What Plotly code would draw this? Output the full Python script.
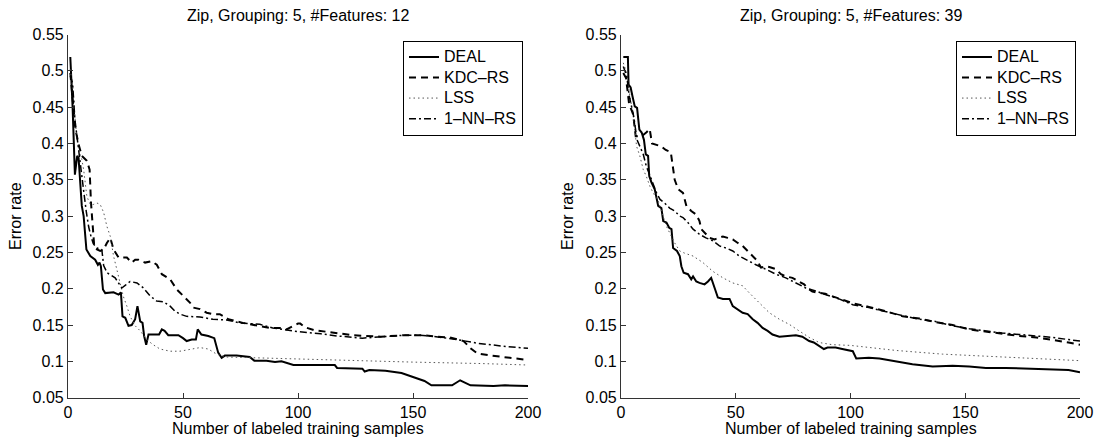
import plotly.graph_objects as go

# ---------------- data: left panel (#Features: 12) ----------------
deal_l_x = [1, 2, 3, 3.5, 4, 4.6, 5.3, 6, 6.8, 7.5, 8, 9.7, 11.8, 13, 13.7, 14.3, 15.2, 16.2, 19.8, 22, 23,
            23.7, 24.9, 26.3, 27.7, 29.2, 30.2, 31.4, 32.4, 33.1, 34, 35, 36.4, 37.9, 39.6, 40.8, 42, 43.6,
            48, 50, 51.6, 53.8, 55.6, 56.4, 58, 61, 63.6, 65.3, 66.8, 68.2, 73.3, 79, 81, 86.3, 90, 92.8,
            96, 98, 116, 117, 128, 129, 131, 138, 145, 150, 155, 158, 167, 170.5, 175, 185, 190, 200]
deal_l_y = [0.519, 0.45, 0.357, 0.37, 0.383, 0.38, 0.35, 0.314, 0.30, 0.27, 0.254, 0.245, 0.240, 0.233, 0.236,
            0.231, 0.199, 0.194, 0.195, 0.192, 0.195, 0.162, 0.160, 0.149, 0.150, 0.158, 0.176, 0.155, 0.153,
            0.135, 0.123, 0.137, 0.137, 0.138, 0.137, 0.144, 0.142, 0.136, 0.136, 0.132, 0.128, 0.130, 0.130,
            0.144, 0.137, 0.135, 0.132, 0.112, 0.105, 0.108, 0.108, 0.106, 0.101, 0.101, 0.099, 0.100,
            0.097, 0.095, 0.095, 0.091, 0.090, 0.086, 0.088, 0.087, 0.084, 0.079, 0.073, 0.067, 0.067, 0.074,
            0.067, 0.066, 0.067, 0.066]

kdc_l_x = [1, 2.5, 3.2, 4.6, 6, 8.2, 9.4, 10, 10.8, 11.4, 12.6, 14, 15.5, 16.9, 18.4, 19.8, 22, 25.6, 27.7,
           29.2, 30.6, 33.5, 36.4, 38.6, 40.8, 44.4, 47.3, 50.1, 53, 54.5, 57.4, 60.3, 63, 66, 67.5, 69.7,
           76, 83.4, 87.7, 92, 95, 98, 100, 101, 103, 107, 117, 124, 136, 146, 155, 160, 166, 172, 175, 178,
           184, 190, 200]
kdc_l_y = [0.497, 0.442, 0.42, 0.399, 0.383, 0.376, 0.364, 0.318, 0.282, 0.259, 0.254, 0.252, 0.254, 0.263,
           0.270, 0.254, 0.243, 0.243, 0.236, 0.240, 0.240, 0.236, 0.238, 0.233, 0.220, 0.213, 0.199, 0.190,
           0.181, 0.174, 0.172, 0.167, 0.165, 0.165, 0.162, 0.158, 0.153, 0.149, 0.146, 0.146, 0.144, 0.149,
           0.152, 0.152, 0.147, 0.143, 0.139, 0.136, 0.134, 0.136, 0.136, 0.134, 0.133, 0.128, 0.118, 0.111,
           0.108, 0.106, 0.102]

lss_l_x = [1, 2.2, 3.2, 4, 5.3, 6, 6.8, 7.5, 8.2, 9.7, 11, 12.6, 14, 15.5, 16.9, 18.4, 19.8, 21.2, 22.7, 24,
           25.6, 27, 29.2, 31.4, 34.2, 37, 40, 44.4, 48.7, 53, 57.4, 61, 64.6, 69, 80, 100, 120, 150, 180, 200]
lss_l_y = [0.502, 0.474, 0.428, 0.405, 0.385, 0.378, 0.364, 0.341, 0.327, 0.316, 0.316, 0.318, 0.316, 0.305,
           0.286, 0.272, 0.245, 0.227, 0.208, 0.190, 0.176, 0.162, 0.149, 0.142, 0.130, 0.123, 0.117, 0.114,
           0.114, 0.116, 0.119, 0.117, 0.110, 0.106, 0.105, 0.103, 0.101, 0.099, 0.097, 0.095]

nn_l_x = [1, 2, 3, 4, 5, 6, 7, 8, 9, 10, 11, 12.6, 14.7, 15.5, 17, 20.5, 22, 23.4, 25, 27, 30, 32.8, 35.7,
          38.6, 41.5, 44.4, 46.5, 48.7, 51.6, 57.4, 63, 69, 74.7, 83.4, 89, 95, 100, 110, 117, 128, 139, 146,
          153, 160, 169, 178, 189, 200]
nn_l_y = [0.493, 0.483, 0.433, 0.405, 0.38, 0.355, 0.33, 0.305, 0.285, 0.272, 0.262, 0.256, 0.254, 0.232,
          0.222, 0.215, 0.208, 0.201, 0.205, 0.210, 0.208, 0.201, 0.190, 0.183, 0.182, 0.176, 0.169, 0.165,
          0.162, 0.161, 0.158, 0.157, 0.153, 0.151, 0.146, 0.143, 0.141, 0.138, 0.135, 0.132, 0.134, 0.136,
          0.136, 0.134, 0.130, 0.125, 0.121, 0.118]

# ---------------- data: right panel (#Features: 39) ----------------
deal_r_x = [1, 3, 3.3, 4.2, 5, 6, 7, 8, 9, 10, 10.8, 11.8, 12.3, 13.3, 14.7, 15.5, 16.2, 17.6, 18.4, 19.8,
            21, 22, 22.7, 24.4, 25.6, 26.3, 27.3, 29.2, 30.6, 31.4, 32.8, 34.2, 36.4, 37.9, 39.3, 40.8, 42.2,
            44.4, 47.3, 48.7, 50.9, 53, 55.2, 57.4, 59.5, 61.7, 63.9, 66, 69, 71.8, 76.2, 79, 82, 84, 86.3,
            88.4, 90, 93.5, 96.4, 101, 102.5, 108, 112.6, 119.8, 127, 135.8, 144.5, 151.7, 159, 167.6, 176.3,
            187.9, 195, 200]
deal_r_y = [0.519, 0.519, 0.481, 0.477, 0.465, 0.451, 0.449, 0.419, 0.415, 0.405, 0.385, 0.383, 0.355, 0.346,
            0.337, 0.327, 0.314, 0.311, 0.293, 0.291, 0.284, 0.282, 0.256, 0.252, 0.245, 0.231, 0.222, 0.220,
            0.213, 0.217, 0.210, 0.208, 0.206, 0.210, 0.215, 0.201, 0.188, 0.186, 0.186, 0.176, 0.171, 0.167,
            0.165, 0.158, 0.153, 0.146, 0.142, 0.137, 0.134, 0.135, 0.136, 0.134, 0.128, 0.126, 0.121, 0.117,
            0.119, 0.119, 0.117, 0.114, 0.104, 0.105, 0.104, 0.100, 0.096, 0.093, 0.094, 0.093, 0.091, 0.091,
            0.090, 0.089, 0.088, 0.085]

kdc_r_x = [1, 2.2, 3.5, 4.5, 5.3, 6.4, 7.6, 9, 11, 12.5, 13.5, 17.6, 19.5, 21.7, 22.5, 23.4, 24.9, 27, 28.5,
           30.6, 32.8, 34.2, 35, 36.4, 38.6, 40.8, 42.9, 44.4, 46.5, 48.7, 50.9, 53, 55.2, 57.4, 59.5, 61, 63,
           64.6, 67.5, 69.7, 71.8, 74.7, 77.6, 79.8, 81.2, 83.4, 89, 95, 101, 108, 115.5, 122.7, 130, 137,
           144.5, 151.7, 159, 166, 173.5, 181, 188, 195, 200]
kdc_r_y = [0.497, 0.490, 0.455, 0.448, 0.440, 0.410, 0.410, 0.410, 0.415, 0.420, 0.400, 0.396, 0.391, 0.388,
           0.370, 0.350, 0.337, 0.332, 0.314, 0.307, 0.302, 0.293, 0.282, 0.277, 0.270, 0.268, 0.270, 0.272,
           0.270, 0.268, 0.263, 0.259, 0.252, 0.245, 0.238, 0.229, 0.231, 0.230, 0.227, 0.220, 0.217, 0.215,
           0.210, 0.206, 0.201, 0.196, 0.193, 0.187, 0.180, 0.175, 0.169, 0.162, 0.159, 0.154, 0.150, 0.144,
           0.141, 0.138, 0.135, 0.133, 0.130, 0.126, 0.123]

lss_r_x = [1, 2.5, 3.9, 5.3, 6.8, 8.2, 9.7, 11, 12.6, 14, 16.2, 18.4, 19.8, 21.2, 23.4, 25.6, 27.7, 31.4,
           35.7, 40, 44.4, 48.7, 53, 56, 60.3, 64.6, 69, 73.3, 77.6, 82, 86.3, 92, 100, 120, 140, 160, 180, 200]
lss_r_y = [0.511, 0.497, 0.465, 0.438, 0.396, 0.383, 0.364, 0.355, 0.341, 0.332, 0.321, 0.300, 0.286, 0.277,
           0.263, 0.252, 0.249, 0.245, 0.236, 0.224, 0.215, 0.208, 0.204, 0.194, 0.181, 0.167, 0.158, 0.151,
           0.142, 0.133, 0.126, 0.123, 0.122, 0.115, 0.110, 0.107, 0.104, 0.101]

nn_r_x = [1, 2.5, 3.6, 4.5, 5.5, 7, 8.2, 9.7, 11, 12.6, 14, 15.5, 17, 19, 21.2, 23.4, 25.6, 27, 29.2, 31.4,
          34.2, 37, 40, 42.9, 45.8, 48.7, 51.6, 54.5, 58.8, 63, 67.5, 71.8, 76.2, 80.5, 84.8, 89, 95, 101, 108,
          115.5, 122.7, 130, 137, 144.5, 151.7, 159, 166, 173.5, 181, 188, 195, 200]
nn_r_y = [0.506, 0.493, 0.465, 0.451, 0.438, 0.405, 0.395, 0.385, 0.369, 0.355, 0.344, 0.332, 0.323, 0.318,
          0.311, 0.307, 0.300, 0.298, 0.291, 0.282, 0.275, 0.270, 0.266, 0.259, 0.256, 0.252, 0.245, 0.240,
          0.233, 0.227, 0.220, 0.215, 0.208, 0.201, 0.197, 0.192, 0.186, 0.178, 0.174, 0.168, 0.163, 0.158,
          0.155, 0.149, 0.145, 0.142, 0.139, 0.137, 0.135, 0.133, 0.130, 0.128]

series_names = ["DEAL", "KDC\u2013RS", "LSS", "1\u2013NN\u2013RS"]
panel_titles = ["Zip, Grouping: 5, #Features: 12", "Zip, Grouping: 5, #Features: 39"]
x_title = "Number of labeled training samples"
y_title = "Error rate"
x_ticks = [0, 50, 100, 150, 200]
y_ticks = [0.05, 0.1, 0.15, 0.2, 0.25, 0.3, 0.35, 0.4, 0.45, 0.5, 0.55]
y_ticktext = ["0.05", "0.1", "0.15", "0.2", "0.25", "0.3", "0.35", "0.4", "0.45", "0.5", "0.55"]

# ---------------- figure ----------------
W, H = 1101, 444
FONT = "Liberation Sans, Arial, Helvetica, sans-serif"
styles = [
    dict(color="black", width=2, dash="solid"),
    dict(color="black", width=2, dash="7px,5px"),
    dict(color="#555555", width=1, dash="1.5px,3px"),
    dict(color="black", width=1.5, dash="7px,3px,2px,3px"),
]

fig = go.Figure()
panels = [
    ([(deal_l_x, deal_l_y), (kdc_l_x, kdc_l_y), (lss_l_x, lss_l_y), (nn_l_x, nn_l_y)], "x", "y", "legend"),
    ([(deal_r_x, deal_r_y), (kdc_r_x, kdc_r_y), (lss_r_x, lss_r_y), (nn_r_x, nn_r_y)], "x2", "y2", "legend2"),
]
for data, xa, ya, lg in panels:
    for (xs, ys), name, st in zip(data, series_names, styles):
        fig.add_trace(go.Scatter(x=xs, y=ys, mode="lines",
                                 name='<span style="font-size:16px">%s</span>' % name, line=st,
                                 xaxis=xa, yaxis=ya, legend=lg))

x_domains = [[68 / W, 528 / W], [621 / W, 1080 / W]]
y_domain = [(H - 397.7) / H, (H - 34.5) / H]

axis_common = dict(showgrid=False, zeroline=False, showline=True, linecolor="#333333", linewidth=1.2,
                   ticks="inside", ticklen=5, tickwidth=1, tickcolor="#333333",
                   tickfont=dict(family=FONT, size=16, color="black"), automargin=False)

layout = dict(
    width=W, height=H, margin=dict(l=0, r=0, t=0, b=0),
    paper_bgcolor="white", plot_bgcolor="white",
    font=dict(family=FONT, size=16, color="black"),
    xaxis=dict(domain=x_domains[0], range=[0, 200], tickvals=x_ticks, anchor="y", **axis_common),
    yaxis=dict(domain=y_domain, range=[0.05, 0.55], tickvals=y_ticks, ticktext=y_ticktext,
               anchor="x", **axis_common),
    xaxis2=dict(domain=x_domains[1], range=[0, 200], tickvals=x_ticks, anchor="y2", **axis_common),
    yaxis2=dict(domain=y_domain, range=[0.05, 0.55], tickvals=y_ticks, ticktext=y_ticktext,
                anchor="x2", **axis_common),
)
leg_common = dict(font=dict(family=FONT, size=13.5, color="black"), bgcolor="white",
                  bordercolor="black", borderwidth=1, xanchor="right", yanchor="top",
                  tracegroupgap=0, itemclick=False)
layout["legend"] = dict(x=523 / W, y=(H - 40.7) / H, **leg_common)
layout["legend2"] = dict(x=1076 / W, y=(H - 40.7) / H, **leg_common)

annotations = []
for i, dom in enumerate(x_domains):
    cx = (dom[0] + dom[1]) / 2
    annotations.append(dict(text=panel_titles[i], x=cx, y=(H - 16) / H, xref="paper", yref="paper",
                            showarrow=False, xanchor="center", yanchor="middle",
                            font=dict(family=FONT, size=16, color="black")))
    annotations.append(dict(text=x_title, x=cx, y=(H - 428) / H, xref="paper", yref="paper",
                            showarrow=False, xanchor="center", yanchor="middle",
                            font=dict(family=FONT, size=16, color="black")))
for px in [15, 567]:
    annotations.append(dict(text=y_title, x=px / W, y=(H - 216) / H, xref="paper", yref="paper",
                            showarrow=False, xanchor="center", yanchor="middle", textangle=-90,
                            font=dict(family=FONT, size=16, color="black")))
layout["annotations"] = annotations

fig.update_layout(**layout)
fig.write_html("out.html")
